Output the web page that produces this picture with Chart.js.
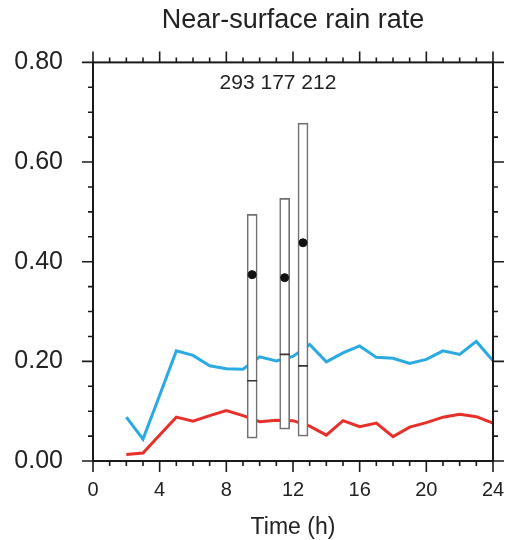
<!DOCTYPE html>
<html lang="en">

<head>
    <meta charset="utf-8">
    <title>Near-surface rain rate</title>
    <script src="https://cdn.jsdelivr.net/npm/chart.js"></script>
    <style>
        html, body { margin: 0; padding: 0; overflow: hidden; background: #fff; }
        #wrap { width: 506px; height: 540px; position: relative; }
        canvas { display: block; }
    </style>
</head>

<body>
    <div id="wrap"><canvas id="rain-chart"></canvas></div>

    <script>
        // hourly series, t = 2..24 h
        const hours = [2, 3, 4, 5, 6, 7, 8, 9, 10, 11, 12, 13, 14, 15, 16, 17, 18, 19, 20, 21, 22, 23, 24];
        const blueRate = [0.088, 0.044, 0.132, 0.221, 0.212, 0.191, 0.185, 0.184, 0.209, 0.201, 0.210, 0.234, 0.199,
            0.217, 0.231, 0.208, 0.206, 0.196, 0.204, 0.221, 0.214, 0.240, 0.201];
        const redRate = [0.013, 0.016, 0.052, 0.088, 0.080, 0.091, 0.101, 0.091, 0.079, 0.082, 0.081, 0.070, 0.052,
            0.081, 0.069, 0.076, 0.049, 0.068, 0.077, 0.088, 0.094, 0.089, 0.076];

        // box plots
        const boxTimes = [9.55, 11.5, 12.6];
        const boxLow = [0.046, 0.064, 0.050];
        const boxHigh = [0.495, 0.527, 0.678];
        const boxMedian = [0.161, 0.214, 0.191];
        const boxMean = [0.374, 0.368, 0.438];
        const boxCounts = [293, 177, 212];

        const xTicks = [0, 4, 8, 12, 16, 20, 24];
        const yTicks = [0.0, 0.2, 0.4, 0.6, 0.8];

        const textColor = '#222';
        const font = 'Liberation Sans, Arial, Helvetica, sans-serif';

        // draws the closed frame with tick marks on all four sides, plus the sample counts
        const framePlugin = {
            id: 'frame',
            afterDatasetsDraw(chart) {
                const ctx = chart.ctx;
                const a = chart.chartArea;
                const xs = chart.scales.x, ys = chart.scales.y;
                ctx.save();
                ctx.strokeStyle = '#1a1a1a';
                ctx.lineWidth = 2;
                ctx.strokeRect(a.left, a.top, a.right - a.left, a.bottom - a.top);
                ctx.lineWidth = 1.6;
                ctx.beginPath();
                for (let h = 0; h <= 24; h++) {
                    const px = xs.getPixelForValue(h);
                    const len = h % 4 === 0 ? 11 : 5;
                    ctx.moveTo(px, a.bottom); ctx.lineTo(px, a.bottom + len);
                    ctx.moveTo(px, a.top); ctx.lineTo(px, a.top - len);
                }
                for (let k = 0; k <= 16; k++) {
                    const py = ys.getPixelForValue(k * 0.05);
                    const len = k % 4 === 0 ? 11 : 5;
                    ctx.moveTo(a.left, py); ctx.lineTo(a.left - len, py);
                    ctx.moveTo(a.right, py); ctx.lineTo(a.right + len, py);
                }
                ctx.stroke();

                ctx.fillStyle = textColor;
                ctx.font = '21px ' + font;
                ctx.textAlign = 'center';
                ctx.textBaseline = 'middle';
                ctx.fillText(boxCounts.join(' '), xs.getPixelForValue(11.1), ys.getPixelForValue(0.758));
                ctx.restore();
            }
        };

        const data = {
            datasets: [
                {
                    label: 'blue',
                    data: hours.map((h, i) => ({ x: h, y: blueRate[i] })),
                    borderColor: '#2aaae2',
                    borderWidth: 3,
                    pointRadius: 0,
                    tension: 0,
                    order: 3
                },
                {
                    label: 'red',
                    data: hours.map((h, i) => ({ x: h, y: redRate[i] })),
                    borderColor: '#e8302a',
                    borderWidth: 3,
                    pointRadius: 0,
                    tension: 0,
                    order: 3
                },
                {
                    type: 'bar',
                    label: 'box',
                    data: boxTimes.map((t, i) => ({ x: t, y: [boxLow[i], boxHigh[i]] })),
                    backgroundColor: '#fff',
                    borderColor: '#707070',
                    borderWidth: 1.6,
                    borderSkipped: false,
                    barThickness: 10,
                    order: 2
                },
                {
                    type: 'scatter',
                    label: 'median',
                    data: boxTimes.map((t, i) => ({ x: t, y: boxMedian[i] })),
                    pointStyle: 'line',
                    pointRadius: 5,
                    borderColor: '#333',
                    borderWidth: 1.6,
                    order: 1
                },
                {
                    type: 'scatter',
                    label: 'mean',
                    data: boxTimes.map((t, i) => ({ x: t, y: boxMean[i] })),
                    pointStyle: 'circle',
                    pointRadius: 4,
                    backgroundColor: '#111',
                    borderColor: '#111',
                    order: 0
                }
            ]
        };

        const options = {
            responsive: true,
            maintainAspectRatio: false,
            animation: false,
            layout: { padding: { left: 0, right: 13, top: 0, bottom: 0 } },
            plugins: {
                legend: { display: false },
                tooltip: { enabled: false },
                title: {
                    display: true,
                    fullSize: false,
                    text: 'Near-surface rain rate',
                    color: textColor,
                    font: { family: font, size: 27, weight: 'normal' },
                    padding: { top: 4, bottom: 26 }
                }
            },
            scales: {
                x: {
                    type: 'linear',
                    min: 0,
                    max: 24,
                    offset: false,
                    grid: { display: false, drawTicks: false },
                    border: { display: false },
                    afterBuildTicks: s => { s.ticks = xTicks.map(v => ({ value: v })); },
                    afterFit: s => {
                        s.height = 79;
                        s.paddingLeft = 0;
                        s.paddingRight = 0;
                    },
                    ticks: {
                        color: textColor,
                        font: { family: font, size: 20 },
                        padding: 17,
                        maxRotation: 0
                    },
                    title: {
                        display: true,
                        text: 'Time (h)',
                        color: textColor,
                        font: { family: font, size: 23, lineHeight: 1 },
                        padding: { top: 0, bottom: 1 }
                    }
                },
                y: {
                    min: 0,
                    max: 0.8,
                    grid: { display: false, drawTicks: false },
                    border: { display: false },
                    afterBuildTicks: s => { s.ticks = yTicks.map(v => ({ value: v })); },
                    afterFit: s => { s.width = 93; },
                    ticks: {
                        color: textColor,
                        font: { family: font, size: 25 },
                        padding: 30,
                        callback: v => v.toFixed(2)
                    }
                }
            }
        };

        new Chart(document.getElementById('rain-chart').getContext('2d'), {
            type: 'line', data: data, options: options, plugins: [framePlugin]
        });
    </script>
</body>

</html>
